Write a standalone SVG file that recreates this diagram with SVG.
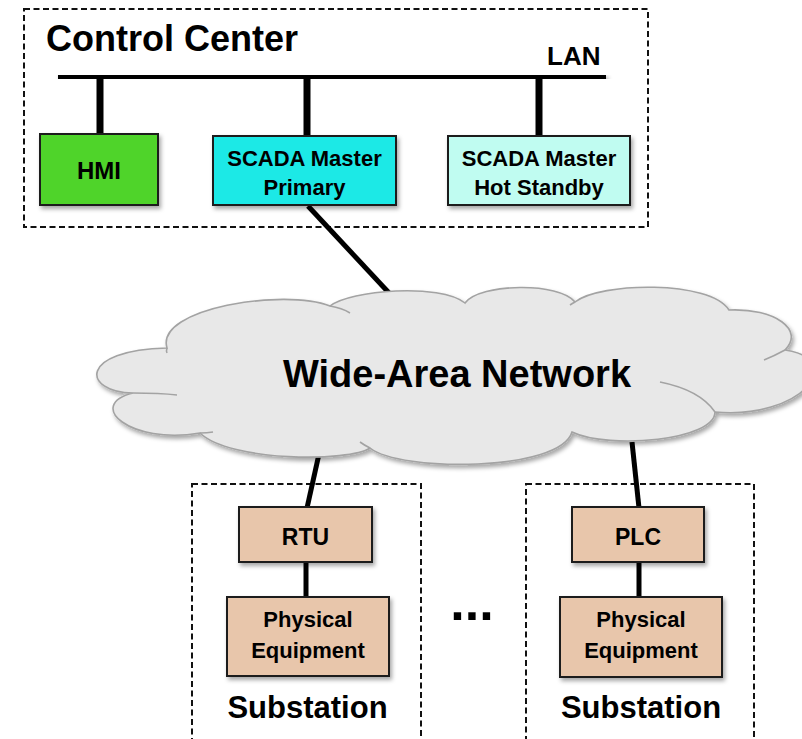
<svg xmlns="http://www.w3.org/2000/svg" width="802" height="739" viewBox="0 0 802 739">
  <defs>
    <filter id="shadow" x="-20%" y="-20%" width="140%" height="150%">
      <feDropShadow dx="2" dy="3" stdDeviation="2" flood-color="#000" flood-opacity="0.35"/>
    </filter>
    <style>
      .zone { fill: none; stroke: #111; stroke-width: 2; stroke-dasharray: 6 3.5; }
      .box { stroke: #1a1a1a; stroke-width: 2; filter: url(#shadow); }
      .wire { stroke: #000; stroke-linecap: butt; fill: none; }
      .lbl { font-family: "Liberation Sans", Arial, sans-serif; font-weight: bold; fill: #000; text-anchor: middle; }
      .title { font-family: "Liberation Sans", Arial, sans-serif; font-weight: bold; fill: #000; }
      .cloud { fill: #e8e8e8; stroke: #a3a3a3; stroke-width: 1.6; }
      .fold { fill: none; stroke: #a3a3a3; stroke-width: 1.6; }
    </style>
  </defs>

  <rect width="802" height="739" fill="#fff"/>

  <!-- Control center zone -->
  <g id="control-center">
    <rect class="zone" x="24" y="9" width="624" height="218"/>
    <text class="title" x="46" y="51" font-size="36">Control Center</text>
    <text class="title" x="547" y="65" font-size="26">LAN</text>
  </g>

  <!-- Substation zones -->
  <g id="substation-1">
    <rect class="zone" x="192" y="484" width="229" height="262"/>
    <text class="lbl" x="307.5" y="718" font-size="31">Substation</text>
  </g>
  <g id="substation-2">
    <rect class="zone" x="526" y="484" width="228" height="262"/>
    <text class="lbl" x="641" y="718" font-size="31">Substation</text>
  </g>

  <!-- Connectors -->
  <g id="connectors">
    <line class="wire" x1="58" y1="75.5" x2="606" y2="78" stroke-width="8" filter="url(#shadow)"/>
    <line class="wire" x1="100" y1="76" x2="100" y2="134" stroke-width="7"/>
    <line class="wire" x1="307" y1="77" x2="307" y2="136" stroke-width="7"/>
    <line class="wire" x1="539" y1="78" x2="539" y2="136" stroke-width="7"/>
    <line class="wire" x1="308" y1="206" x2="390" y2="294" stroke-width="5"/>
    <line class="wire" x1="319" y1="454" x2="307" y2="508" stroke-width="5"/>
    <line class="wire" x1="632" y1="442" x2="639" y2="508" stroke-width="5"/>
    <line class="wire" x1="306" y1="562" x2="306" y2="598" stroke-width="5"/>
    <line class="wire" x1="639" y1="562" x2="639" y2="598" stroke-width="5"/>
  </g>

  <!-- Wide-area network cloud -->
  <g id="wan">
    <path class="cloud" filter="url(#shadow)" d="M133,393
      C82,392 78,350 167,348
      C155,308 285,288 330,306
      C350,290 440,283 465,303
      C480,283 560,282 575,302
      C600,282 710,280 729,310
      C775,308 805,330 785,350
      C850,360 800,420 715,412
      C715,440 610,450 572,432
      C560,472 400,472 370,448
      C350,462 230,462 200,433
      C130,445 85,405 133,393 Z"/>
    <path class="fold" d="M330,306 Q342,308 350,313"/>
    <path class="fold" d="M133,393 Q160,393 177,395"/>
    <path class="fold" d="M167,348 Q166,351 167,353"/>
    <path class="fold" d="M200,433 Q207,433 213,432"/>
    <path class="fold" d="M370,448 Q364,445 360,442"/>
    <path class="fold" d="M660,382 Q700,390 715,412"/>
    <path class="fold" d="M785,350 Q774,356 764,360"/>
    <path class="fold" d="M575,302 Q573,303 570,305"/>
    <text class="lbl" x="457" y="387" font-size="38">Wide-Area Network</text>
  </g>

  <!-- Nodes -->
  <g id="hmi">
    <rect class="box" x="40" y="134" width="118" height="71" fill="#4fd42c"/>
    <text class="lbl" x="99" y="179" font-size="24">HMI</text>
  </g>
  <g id="scada-primary">
    <rect class="box" x="213" y="136" width="183" height="69" fill="#1ee9e6"/>
    <text class="lbl" x="304.5" y="166" font-size="22">SCADA Master</text>
    <text class="lbl" x="304.5" y="195" font-size="22">Primary</text>
  </g>
  <g id="scada-standby">
    <rect class="box" x="448" y="136" width="182" height="69" fill="#c0fcf1"/>
    <text class="lbl" x="539" y="166" font-size="22">SCADA Master</text>
    <text class="lbl" x="539" y="195" font-size="22">Hot Standby</text>
  </g>
  <g id="rtu">
    <rect class="box" x="239" y="507" width="133" height="55" fill="#e8c6ab"/>
    <text class="lbl" x="305.5" y="545" font-size="23">RTU</text>
  </g>
  <g id="equipment-1">
    <rect class="box" x="227" y="597" width="162" height="79" fill="#e8c6ab"/>
    <text class="lbl" x="308" y="627" font-size="22">Physical</text>
    <text class="lbl" x="308" y="658" font-size="22">Equipment</text>
  </g>
  <g id="plc">
    <rect class="box" x="572" y="507" width="132" height="55" fill="#e8c6ab"/>
    <text class="lbl" x="638" y="545" font-size="23">PLC</text>
  </g>
  <g id="equipment-2">
    <rect class="box" x="560" y="597" width="162" height="80" fill="#e8c6ab"/>
    <text class="lbl" x="641" y="627" font-size="22">Physical</text>
    <text class="lbl" x="641" y="658" font-size="22">Equipment</text>
  </g>

  <text class="lbl" x="472" y="620" font-size="52">...</text>
</svg>
